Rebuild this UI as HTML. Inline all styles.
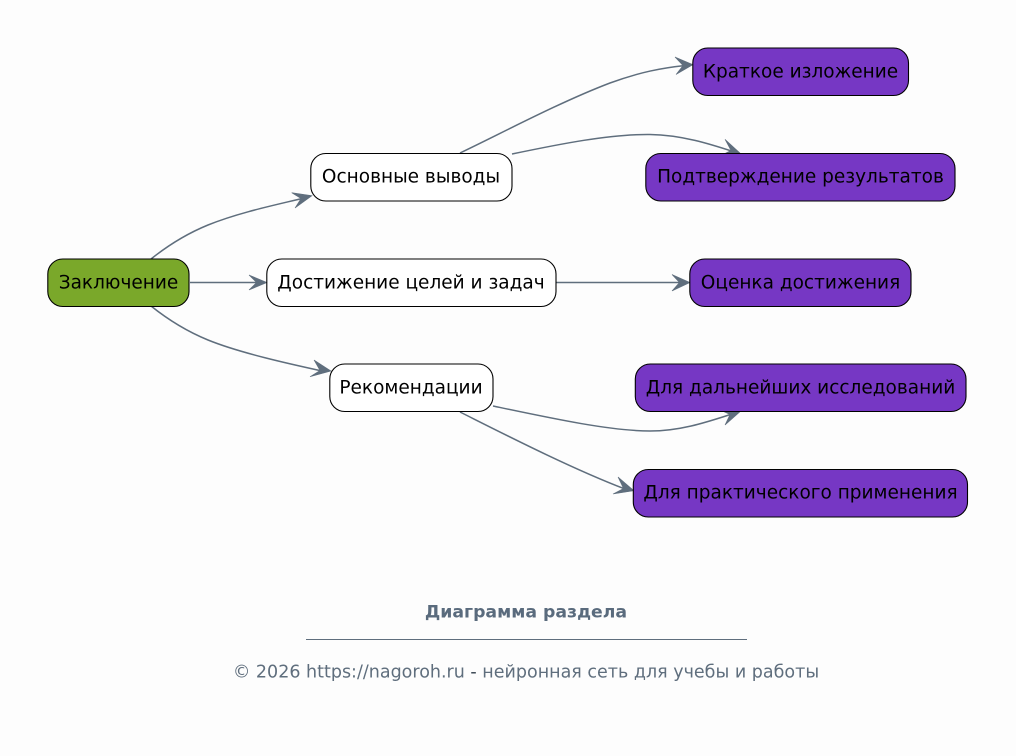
<!DOCTYPE html>
<html><head><meta charset="utf-8">
<style>
html,body{margin:0;padding:0;background:#fdfdfd;width:1016px;height:756px;overflow:hidden}
svg{display:block}
text{font-family:"DejaVu Sans",sans-serif}
.n{font-size:18.5px;fill:#000;text-anchor:middle}
.e{fill:none;stroke:#5f6e7d;stroke-width:1.5}
.a{fill:#5f6e7d;stroke:#5f6e7d;stroke-width:0.6;stroke-linejoin:miter}
.b{stroke:#000;stroke-width:1.1}
</style></head><body>
<svg width="1016" height="756" viewBox="0 0 1016 756" xmlns="http://www.w3.org/2000/svg">
<rect width="1016" height="756" fill="#fdfdfd"/>
<path class="e" d="M151 259C166 247 186 234 208 225C240 212 280 204 304 198"/>
<path class="a" d="M312 195.700L291.700 192.700L301 198.500L295 208Z"/>
<path class="e" d="M190 282.500H259"/>
<path class="a" d="M267 282.500L249 275L256.500 282.500L249 290Z"/>
<path class="e" d="M151 306C166 318 186 331 208 340C240 353 290 364 322 371"/>
<path class="a" d="M331 371L314 360L320 370.500L310 376.700Z"/>
<path class="e" d="M460 153C500 134 560 102 610 83C640 72 662 68 685 65.500"/>
<path class="a" d="M693 64.700L675 57L683 65.500L676 74.500Z"/>
<path class="e" d="M512 154C560 144 610 134 650 134.500C682 135 710 144 733 151.500"/>
<path class="a" d="M741 154L725 139.300L731 150.500L721.700 155Z"/>
<path class="e" d="M556 282.500H682"/>
<path class="a" d="M690 282.500L672 274.500L679.500 282.500L672 291Z"/>
<path class="e" d="M493 406C550 418 610 431 650 431C682 431 710 421 732 414"/>
<path class="a" d="M740 411.700L721.700 410.700L730 414.500L725 425Z"/>
<path class="e" d="M460 412C500 432 570 468 625 489"/>
<path class="a" d="M634 490.700L618 477L623.500 488.500L613 494Z"/>
<rect class="b" x="47.800" y="259" width="141.200" height="47.500" rx="15" fill="#7aa82a"/>
<text class="n" x="118.500" y="288.400">Заключение</text>
<rect class="b" x="310.800" y="153.500" width="201.200" height="47.500" rx="15" fill="#fff"/>
<text class="n" x="411" y="182.400">Основные выводы</text>
<rect class="b" x="266.800" y="259" width="289.200" height="47.500" rx="15" fill="#fff"/>
<text class="n" x="411" y="288.400">Достижение целей и задач</text>
<rect class="b" x="329.800" y="364" width="163.200" height="47.500" rx="15" fill="#fff"/>
<text class="n" x="411" y="393.400">Рекомендации</text>
<rect class="b" x="692.800" y="48" width="215.700" height="47.500" rx="15" fill="#7637c4"/>
<text class="n" x="800.500" y="77.400">Краткое изложение</text>
<rect class="b" x="645.800" y="153.500" width="309.200" height="47.500" rx="15" fill="#7637c4"/>
<text class="n" x="800.500" y="182.400">Подтверждение результатов</text>
<rect class="b" x="689.800" y="259" width="221.200" height="47.500" rx="15" fill="#7637c4"/>
<text class="n" x="800.500" y="288.400">Оценка достижения</text>
<rect class="b" x="635.300" y="364" width="330.700" height="47.500" rx="15" fill="#7637c4"/>
<text class="n" x="800.500" y="393.400">Для дальнейших исследований</text>
<rect class="b" x="633.300" y="469.500" width="334.200" height="47.500" rx="15" fill="#7637c4"/>
<text class="n" x="800.500" y="498.400">Для практического применения</text>
<text x="526" y="617.400" text-anchor="middle" style="font-size:17.300px;font-weight:bold;fill:#5a6b7d">Диаграмма раздела</text>
<rect x="306" y="639" width="441" height="1" fill="#5f6e7d"/>
<text x="526" y="677.400" text-anchor="middle" style="font-size:17.500px;fill:#5f6e7d">© 2026 https://nagoroh.ru <tspan fill="#33404d">-</tspan> нейронная сеть для учебы и работы</text>
</svg>
</body></html>
